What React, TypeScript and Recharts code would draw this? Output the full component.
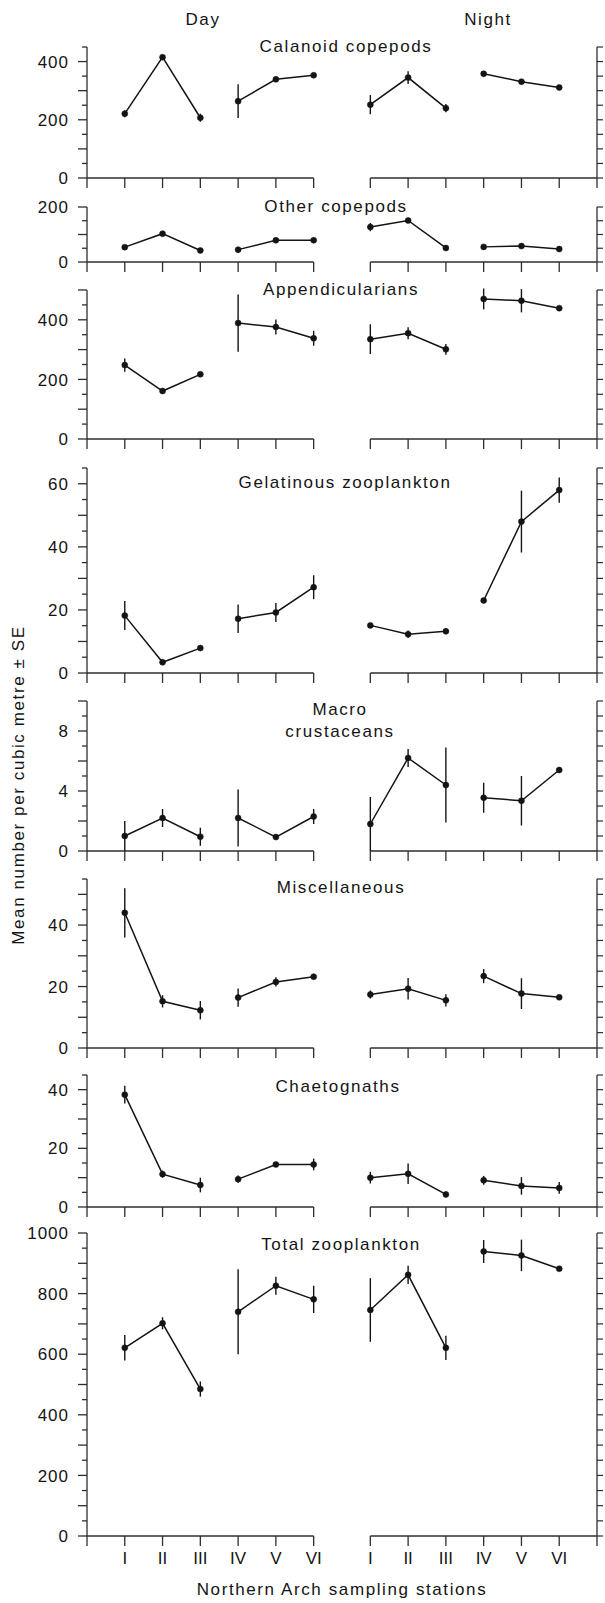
import React from "react";
import { LineChart, Line, XAxis, YAxis, ErrorBar, ReferenceLine } from "recharts";

// station labels and where they sit on the shared x scale (0 = left axis, 13.5 = right axis)
const stations = ["I", "II", "III", "IV", "V", "VI"];
const dayPos = [1, 2, 3, 4, 5, 6];
const nightPos = [7.5, 8.5, 9.5, 10.5, 11.5, 12.5];

const calanoidDay = [221, 415, 207, 264, 339, 353];
const calanoidDaySE = [12, 5, 14, 58, 5, 5];
const calanoidNight = [252, 345, 240, 358, 331, 311];
const calanoidNightSE = [33, 22, 14, 5, 5, 7];

const otherDay = [54, 103, 42, 45, 79, 79];
const otherDaySE = [4, 6, 4, 10, 4, 4];
const otherNight = [127, 151, 51, 55, 58, 47];
const otherNightSE = [15, 6, 4, 4, 4, 4];

const appendDay = [248, 161, 217, 389, 376, 338];
const appendDaySE = [22, 8, 6, 96, 25, 25];
const appendNight = [335, 355, 301, 470, 464, 439];
const appendNightSE = [50, 20, 18, 35, 39, 5];

const gelDay = [18.2, 3.4, 7.9, 17.2, 19.2, 27.2];
const gelDaySE = [4.6, 0.5, 0.6, 4.5, 3, 3.8];
const gelNight = [15.1, 12.3, 13.2, 23, 48, 58];
const gelNightSE = [0.6, 1.2, 0.8, 0.8, 9.8, 4];

const macroDay = [1.0, 2.2, 0.95, 2.2, 0.93, 2.3];
const macroDaySE = [1.0, 0.6, 0.6, 1.9, 0.15, 0.5];
const macroNight = [1.8, 6.2, 4.4, 3.55, 3.35, 5.4];
const macroNightSE = [1.8, 0.6, 2.5, 1.0, 1.65, 0.15];

const miscDay = [44, 15.2, 12.3, 16.4, 21.5, 23.2];
const miscDaySE = [8, 2, 3, 3, 1.5, 0.7];
const miscNight = [17.4, 19.3, 15.5, 23.4, 17.7, 16.5];
const miscNightSE = [1.3, 3.5, 2, 2.3, 5, 0.5];

const chaetoDay = [38.3, 11.2, 7.5, 9.5, 14.5, 14.5];
const chaetoDaySE = [3, 1.2, 2.5, 1.2, 0.5, 2];
const chaetoNight = [10, 11.3, 4.3, 9.1, 7.2, 6.5];
const chaetoNightSE = [2, 3.5, 1, 1.5, 3, 2];

const totalDay = [621, 702, 485, 740, 826, 781];
const totalDaySE = [42, 20, 25, 140, 30, 45];
const totalNight = [746, 862, 621, 939, 926, 882];
const totalNightSE = [105, 30, 40, 38, 52, 6];

const ink = "#141414";
const axisInk = "#2e2e2e";
const font = "'Liberation Sans', Arial, Helvetica, sans-serif";

const panels = [
  { title: ["Calanoid copepods"], tx: 346, ty: 47, top: 47, bottom: 178, max: 450, step: 50, labels: [0, 200, 400],
    day: calanoidDay, daySE: calanoidDaySE, night: calanoidNight, nightSE: calanoidNightSE },
  { title: ["Other copepods"], tx: 336, ty: 207, top: 207, bottom: 262, max: 200, step: 50, labels: [0, 200],
    day: otherDay, daySE: otherDaySE, night: otherNight, nightSE: otherNightSE },
  { title: ["Appendicularians"], tx: 341, ty: 290, top: 290, bottom: 439, max: 500, step: 50, labels: [0, 200, 400],
    day: appendDay, daySE: appendDaySE, night: appendNight, nightSE: appendNightSE },
  { title: ["Gelatinous zooplankton"], tx: 345, ty: 483, top: 468, bottom: 673, max: 65, step: 5, labels: [0, 20, 40, 60],
    day: gelDay, daySE: gelDaySE, night: gelNight, nightSE: gelNightSE },
  { title: ["Macro", "crustaceans"], tx: 340, ty: 721, top: 701, bottom: 851, max: 10, step: 1, labels: [0, 4, 8],
    day: macroDay, daySE: macroDaySE, night: macroNight, nightSE: macroNightSE },
  { title: ["Miscellaneous"], tx: 341, ty: 888, top: 879, bottom: 1048, max: 55, step: 5, labels: [0, 20, 40],
    day: miscDay, daySE: miscDaySE, night: miscNight, nightSE: miscNightSE },
  { title: ["Chaetognaths"], tx: 338, ty: 1087, top: 1075, bottom: 1207, max: 45, step: 5, labels: [0, 20, 40],
    day: chaetoDay, daySE: chaetoDaySE, night: chaetoNight, nightSE: chaetoNightSE },
  { title: ["Total zooplankton"], tx: 341, ty: 1245, top: 1233, bottom: 1536, max: 1000, step: 50, labels: [0, 200, 400, 600, 800, 1000],
    day: totalDay, daySE: totalDaySE, night: totalNight, nightSE: totalNightSE },
];

const xTicks = [0, ...dayPos, ...nightPos, 13.5];

function segment(pos: number[], vals: number[], se: number[], from: number) {
  return [from, from + 1, from + 2].map(i => ({ x: pos[i], v: vals[i], se: se[i] }));
}

function Panel({ p, last }: { p: typeof panels[number]; last: boolean }) {
  const mt = 12;
  const xh = last ? 40 : 12;
  const h = mt + (p.bottom - p.top) + xh;
  const ticks: number[] = [];
  for (let v = 0; v <= p.max + 1e-9; v += p.step) ticks.push(Math.round(v * 100) / 100);

  const segs = [
    segment(dayPos, p.day, p.daySE, 0),
    segment(dayPos, p.day, p.daySE, 3),
    segment(nightPos, p.night, p.nightSE, 0),
    segment(nightPos, p.night, p.nightSE, 3),
  ];

  const leftTick = (props: any) => {
    const { x, y, payload } = props;
    const v = payload.value;
    const labelled = p.labels.includes(v);
    const major = Math.round(v / p.step) % 2 === 0;
    const len = labelled || major ? 9 : 5;
    return (
      <g>
        <line x1={x - len} y1={y} x2={x} y2={y} stroke={axisInk} strokeWidth={1.3} />
        {labelled && (
          <text x={x - 18} y={y} dy="0.36em" textAnchor="end" fill={ink}
            style={{ fontFamily: font, fontSize: 17, letterSpacing: 1 }}>{v}</text>
        )}
      </g>
    );
  };

  return (
    <div style={{ position: "absolute", left: 0, top: p.top - mt }}>
      <LineChart width={605} height={h} margin={{ top: mt, right: 7, bottom: 0, left: 86 }}>
        <XAxis type="number" dataKey="x" domain={[0, 13.5]} ticks={xTicks} interval={0} allowDataOverflow
          axisLine={false} tickSize={10} tickMargin={6} height={xh}
          tickLine={{ stroke: axisInk, strokeWidth: 1.3 }}
          tick={{ fill: ink, fontSize: 17, fontFamily: font }}
          tickFormatter={(v: number) => {
            if (!last) return "";
            const di = dayPos.indexOf(v);
            if (di >= 0) return stations[di];
            const ni = nightPos.indexOf(v);
            return ni >= 0 ? stations[ni] : "";
          }} />
        <YAxis yAxisId="l" type="number" domain={[0, p.max]} ticks={ticks} interval={0} allowDataOverflow
          width={1} tickSize={0} tickMargin={0} tickLine={false}
          axisLine={{ stroke: axisInk, strokeWidth: 1.3 }} tick={leftTick} />
        <YAxis yAxisId="r" orientation="right" type="number" domain={[0, p.max]} ticks={ticks} interval={0} allowDataOverflow
          width={1} tickSize={6} tickFormatter={() => ""}
          tickLine={{ stroke: axisInk, strokeWidth: 1.2 }}
          axisLine={{ stroke: axisInk, strokeWidth: 1.3 }} />
        <ReferenceLine yAxisId="l" segment={[{ x: 0, y: 0 }, { x: 6, y: 0 }]} stroke={axisInk} strokeWidth={1.3} />
        <ReferenceLine yAxisId="l" segment={[{ x: 7.5, y: 0 }, { x: 13.5, y: 0 }]} stroke={axisInk} strokeWidth={1.3} />
        {segs.map((s, i) => (
          <Line key={i} yAxisId="l" data={s} dataKey="v" stroke={ink} strokeWidth={1.5}
            dot={{ r: 3, fill: ink, stroke: ink, strokeWidth: 0.5 }} activeDot={false} isAnimationActive={false}>
            <ErrorBar dataKey="se" width={0} stroke={ink} strokeWidth={1.4} direction="y" />
          </Line>
        ))}
      </LineChart>
    </div>
  );
}

const label: React.CSSProperties = {
  position: "absolute", transform: "translate(-50%, -50%)", whiteSpace: "nowrap",
  fontFamily: font, fontSize: 17, letterSpacing: 1.6, color: ink, lineHeight: "22px", textAlign: "center",
};

export default function App() {
  return (
    <div style={{ position: "absolute", left: 0, top: 0, width: 605, height: 1603, background: "#fff", overflow: "hidden" }}>
      {panels.map((p, i) => <Panel key={i} p={p} last={i === panels.length - 1} />)}
      {panels.map((p, i) => (
        <div key={"t" + i} style={{ ...label, left: p.tx, top: p.ty }}>
          {p.title.map((t, j) => <div key={j}>{t}</div>)}
        </div>
      ))}
      <div style={{ ...label, left: 203, top: 20 }}>Day</div>
      <div style={{ ...label, left: 488, top: 20 }}>Night</div>
      <div style={{ ...label, left: 342, top: 1590 }}>Northern Arch sampling stations</div>
      <div style={{ ...label, left: 19, top: 785, transform: "translate(-50%, -50%) rotate(-90deg)" }}>
        Mean number per cubic metre ± SE
      </div>
    </div>
  );
}
